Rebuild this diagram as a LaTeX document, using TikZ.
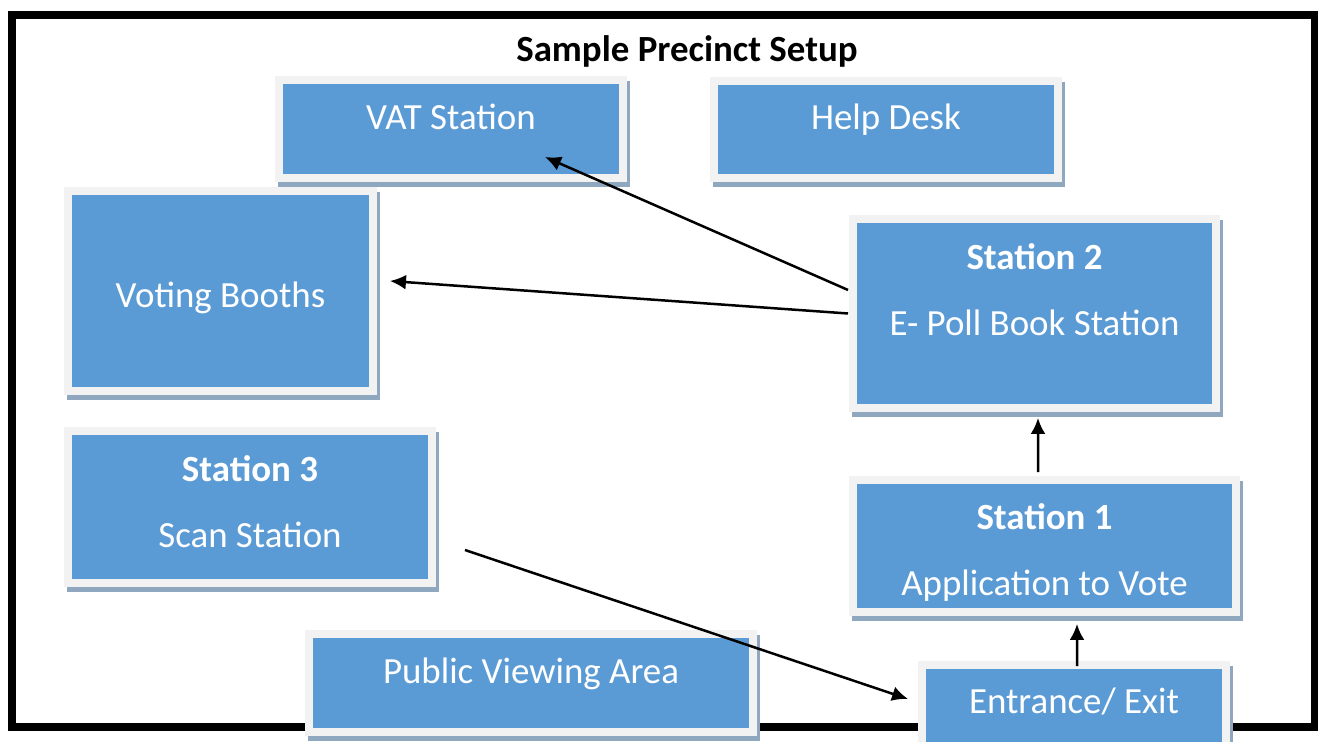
\documentclass[tikz,border=0pt]{standalone}
\usepackage{fontspec}
\setmainfont{Carlito}
\usetikzlibrary{arrows.meta}
\definecolor{boxblue}{RGB}{91,155,213}
\definecolor{boxgray}{RGB}{242,242,242}
\definecolor{boxshadow}{RGB}{143,168,192}

\begin{document}
\begin{tikzpicture}[x=0.02cm, y=-0.02cm,
  areabox/.style={rectangle, fill=boxblue, draw=boxgray, line width=0.16cm,
    inner sep=0pt, outer sep=0pt, text=white, align=center,
    font=\fontsize{21}{38}\selectfont,
    preaction={draw=boxshadow, fill=boxshadow, transform canvas={shift={(3,5)}}}},
  arr/.style={-{Latex[length=0.32cm,width=0.3cm]}, line width=0.05cm}]
\useasboundingbox (0,0) rectangle (1318,742);
\clip (0,0) rectangle (1318,742);
% room outline
\draw [line width=0.16cm] (12,15) rectangle (1314.5,727);
% stations
\node [areabox, minimum width=6.88cm, minimum height=1.96cm, text height=0.54cm, text depth=0.5cm] (vat) at (451,129) {VAT Station};
\node [areabox, minimum width=6.88cm, minimum height=1.94cm, text height=0.51cm, text depth=0.5cm] (help) at (886,129.5) {Help Desk};
\node [areabox, minimum width=6.1cm, minimum height=4cm, text height=1.18cm, text depth=0.5cm] (voting) at (220.5,291) {Voting Booths};
\node [areabox, minimum width=7.26cm, minimum height=3.78cm, text height=1.8cm, text depth=0.9cm] (st2) at (1034.5,313.5) {\textbf{Station 2}\\E- Poll Book Station};
\node [areabox, minimum width=7.28cm, minimum height=3.04cm, text height=1.64cm, text depth=0cm] (st3) at (250,507) {\textbf{Station 3}\\Scan Station};
\node [areabox, minimum width=7.66cm, minimum height=2.64cm, text height=2cm, text depth=0cm] (st1) at (1044.5,546) {\textbf{Station 1}\\Application to Vote};
\node [areabox, minimum width=8.88cm, minimum height=1.96cm, text height=0.5cm, text depth=0.5cm] (public) at (531,683) {Public Viewing Area};
\node [areabox, minimum width=6.08cm, minimum height=1.88cm, text height=0.54cm, text depth=0.5cm] (ent) at (1074,712) {Entrance/ Exit};
% flow
\draw [arr] ([shift={(-5,-23.5)}]st2.west) -- ([shift={(94,-21)}]vat.south);
\draw [arr] ([shift={(-5,0)}]st2.west) -- ([shift={(17,-10)}]voting.east);
\draw [arr] ([shift={(-6.5,-8)}]st1.north) -- ([shift={(3.5,10)}]st2.south);
\draw [arr] ([shift={(3,1)}]ent.north) -- ([shift={(32.5,12)}]st1.south);
\draw [arr] ([shift={(33,43)}]st3.east) -- ([shift={(-14,-13)}]ent.west);
\node [font=\fontsize{21}{25}\selectfont\bfseries, anchor=base] (title) at (687,62) {Sample Precinct Setup};
\end{tikzpicture}
\end{document}
